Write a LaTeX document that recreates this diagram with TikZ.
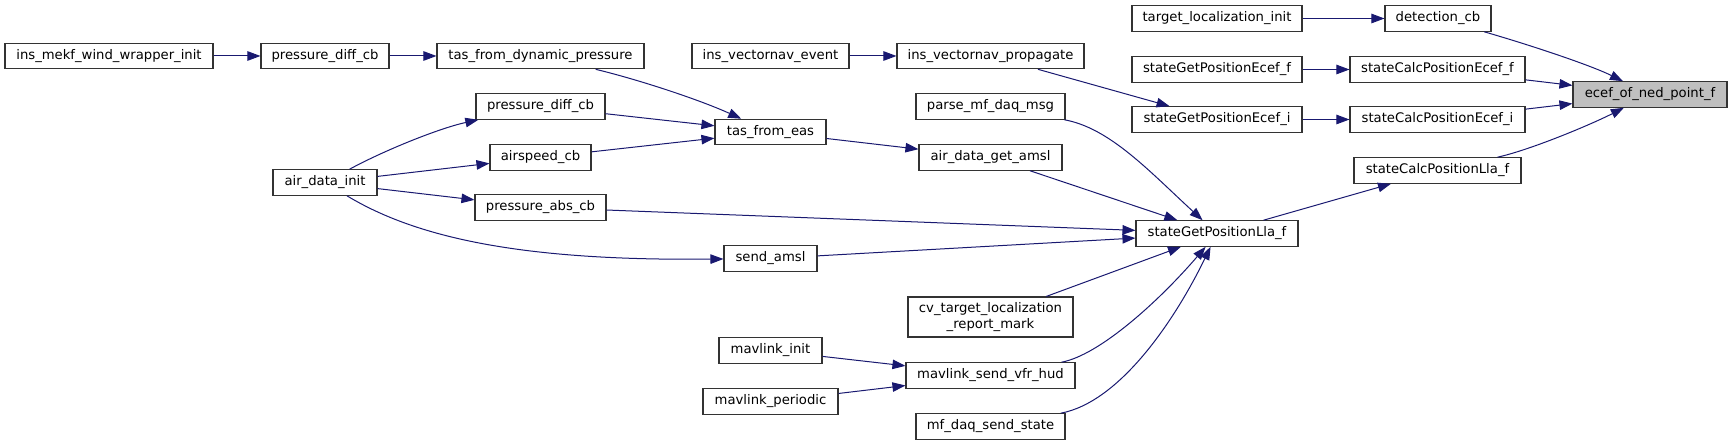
\documentclass[tikz,border=0pt]{standalone}
\usepackage{fontspec}
\setmainfont{DejaVu Sans}
\usetikzlibrary{arrows.meta}
\definecolor{edgeblue}{HTML}{191970}
\definecolor{focusgrey}{HTML}{BFBFBF}
\definecolor{boxline}{HTML}{333333}
\begin{document}
\begin{tikzpicture}[x=1bp,y=-1bp,
  fn/.style={draw=boxline, line width=1.1bp, fill=white, inner sep=0pt,
    minimum height=25.5bp, font=\fontsize{13.25}{15.5}\selectfont, align=center},
  focus/.style={fn, fill=focusgrey},
  call/.style={draw=edgeblue, line width=1bp,
    -{Triangle[length=13bp,width=9.5bp]}, color=edgeblue}]
\useasboundingbox (0,0) rectangle (1732,445);
% nodes
\node[fn, minimum width=170bp] (tli) at (1217,18.5) {target\_localization\_init};
\node[fn, minimum width=106bp] (det) at (1438,18.5) {detection\_cb};
\node[fn, minimum width=208bp] (imw) at (109,56) {ins\_mekf\_wind\_wrapper\_init};
\node[fn, minimum width=128bp] (pdca) at (325,56) {pressure\_diff\_cb};
\node[fn, minimum width=207bp] (tfdp) at (540.5,56) {tas\_from\_dynamic\_pressure};
\node[fn, minimum width=157bp] (ive) at (770.5,56) {ins\_vectornav\_event};
\node[fn, minimum width=187bp] (ivp) at (990.5,56) {ins\_vectornav\_propagate};
\node[fn, minimum width=170bp] (sgef) at (1217,69.5) {stateGetPositionEcef\_f};
\node[fn, minimum width=175bp] (scef) at (1437.5,69.5) {stateCalcPositionEcef\_f};
\node[focus, minimum width=154bp] (ecef) at (1650,94.5) {ecef\_of\_ned\_point\_f};
\node[fn, minimum width=129bp] (pdcb) at (540.5,106.5) {pressure\_diff\_cb};
\node[fn, minimum width=149bp] (pmdm) at (990.5,106.5) {parse\_mf\_daq\_msg};
\node[fn, minimum width=170bp] (sgei) at (1217,119.5) {stateGetPositionEcef\_i};
\node[fn, minimum width=175bp] (scei) at (1437.5,119.5) {stateCalcPositionEcef\_i};
\node[fn, minimum width=111bp] (tfe) at (770.5,132) {tas\_from\_eas};
\node[fn, minimum width=101bp] (asc) at (540.5,157.5) {airspeed\_cb};
\node[fn, minimum width=143bp] (adga) at (990.5,157.5) {air\_data\_get\_amsl};
\node[fn, minimum width=167bp] (sclf) at (1437.5,170.5) {stateCalcPositionLla\_f};
\node[fn, minimum width=104bp] (adi) at (325,182.5) {air\_data\_init};
\node[fn, minimum width=131bp] (pac) at (540.5,207.5) {pressure\_abs\_cb};
\node[fn, minimum width=162bp] (sglf) at (1217,233.5) {stateGetPositionLla\_f};
\node[fn, minimum width=93bp] (sam) at (770.5,258.5) {send\_amsl};
\node[fn, minimum width=165bp, minimum height=40bp] (cvt) at (990.5,317) {cv\_target\_localization\\\_report\_mark};
\node[fn, minimum width=103bp] (mli) at (770.5,350.5) {mavlink\_init};
\node[fn, minimum width=169bp] (msvh) at (990.5,375.5) {mavlink\_send\_vfr\_hud};
\node[fn, minimum width=135bp] (mlp) at (770.5,401.5) {mavlink\_periodic};
\node[fn, minimum width=149bp] (mdss) at (990.5,426.5) {mf\_daq\_send\_state};
% connectors
\draw[call] (imw) -- (pdca);
\draw[call] (pdca) -- (tfdp);
\draw[call] (tfdp) .. controls (640,80) and (700,100) .. (tfe);
\draw[call] (pdcb) -- (tfe);
\draw[call] (asc) -- (tfe);
\draw[call] (adi) .. controls (385,150) and (440,128) .. (pdcb);
\draw[call] (adi) -- (asc);
\draw[call] (adi) -- (pac);
\draw[call] (adi) .. controls (420,240) and (530,261) .. (sam);
\draw[call] (tfe) -- (adga);
\draw[call] (ive) -- (ivp);
\draw[call] (ivp) -- (sgei);
\draw[call] (pmdm) .. controls (1110,128) and (1150,172) .. (sglf);
\draw[call] (adga) -- (sglf);
\draw[call] (pac) -- (sglf);
\draw[call] (sam) -- (sglf);
\draw[call] (cvt) -- (sglf);
\draw[call] (msvh) .. controls (1100,355) and (1160,300) .. (sglf);
\draw[call] (mdss) .. controls (1120,402) and (1175,320) .. (sglf);
\draw[call] (mli) -- (msvh);
\draw[call] (mlp) -- (msvh);
\draw[call] (tli) -- (det);
\draw[call] (det) .. controls (1530,45) and (1590,65) .. (ecef);
\draw[call] (sgef) -- (scef);
\draw[call] (scef) -- (ecef);
\draw[call] (sgei) -- (scei);
\draw[call] (scei) -- (ecef);
\draw[call] (sglf) -- (sclf);
\draw[call] (sclf) .. controls (1530,150) and (1590,125) .. (ecef);
\end{tikzpicture}
\end{document}
